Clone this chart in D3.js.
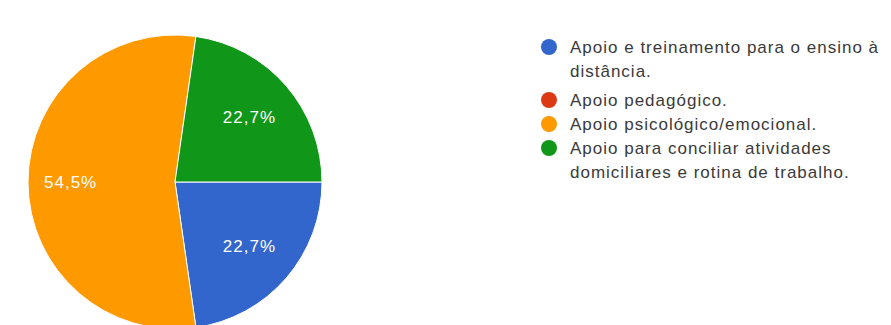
<!DOCTYPE html>
<html>
<head>
<meta charset="utf-8">
<script src="https://cdn.jsdelivr.net/npm/d3@7"></script>
<style>
  body { margin: 0; background: #fff; }
  svg text { font-family: "Liberation Sans", Arial, sans-serif; }
</style>
</head>
<body>
<div class="chart"></div>
<script>
var w = 891,
  h = 325,
  categories = [
    'Apoio e treinamento para o ensino à distância.',
    'Apoio pedagógico.',
    'Apoio psicológico/emocional.',
    'Apoio para conciliar atividades domiciliares e rotina de trabalho.'
  ],
  legendLines = [
    ['Apoio e treinamento para o ensino à', 'distância.'],
    ['Apoio pedagógico.'],
    ['Apoio psicológico/emocional.'],
    ['Apoio para conciliar atividades', 'domiciliares e rotina de trabalho.']
  ],
  counts = [5, 0, 12, 5],
  colors = ['#3366cc', '#dc3912', '#ff9900', '#109618'];

var cx = 175, cy = 182, r = 147;

var svg = d3.select('.chart')
  .append('svg')
  .attr('width', w)
  .attr('height', h);

var total = d3.sum(counts);
var data = counts.map(function (v, i) {
  return { name: categories[i], value: v, color: colors[i] };
});

// clockwise, first slice starts at 3 o'clock
var pie = d3.pie()
  .sort(null)
  .value(function (d) { return d.value; })
  .startAngle(Math.PI / 2)
  .endAngle(Math.PI / 2 + 2 * Math.PI);

var arc = d3.arc().innerRadius(0).outerRadius(r);

var g = svg.append('g').attr('transform', 'translate(' + cx + ',' + cy + ')');

var arcs = pie(data).filter(function (d) { return d.data.value > 0; });

g.selectAll('path')
  .data(arcs)
  .enter()
  .append('path')
  .attr('d', arc)
  .attr('fill', function (d) { return d.data.color; })
  .attr('stroke', '#fff')
  .attr('stroke-width', 1);

var fmt = function (v) {
  return d3.format('.1f')(v / total * 100).replace('.', ',') + '%';
};

// percentage labels
g.selectAll('text.pct')
  .data(arcs)
  .enter()
  .append('text')
  .attr('class', 'pct')
  .attr('transform', function (d) {
    var lr = (d.endAngle - d.startAngle) > Math.PI ? r * 0.71 : r * 0.67;
    var c = d3.arc().innerRadius(lr).outerRadius(lr).centroid(d);
    return 'translate(' + c[0] + ',' + c[1] + ')';
  })
  .attr('text-anchor', 'middle')
  .attr('dy', '0.35em')
  .attr('font-size', '17px')
  .attr('letter-spacing', '1px')
  .attr('fill', '#fff')
  .text(function (d) { return fmt(d.data.value); });

// legend
var legend = svg.append('g').attr('class', 'legend');
var y = 47;
legendLines.forEach(function (lines, i) {
  legend.append('circle')
    .attr('cx', 549)
    .attr('cy', y)
    .attr('r', 8)
    .attr('fill', colors[i]);
  lines.forEach(function (line, j) {
    legend.append('text')
      .attr('x', 570)
      .attr('y', y + j * 24)
      .attr('dy', '0.35em')
      .attr('font-size', '17px')
      .attr('letter-spacing', '1px')
      .attr('fill', '#3a3a3a')
      .text(line);
  });
  y += lines.length * 24 + (lines.length > 1 ? 5 : 0);
});
</script>
</body>
</html>
